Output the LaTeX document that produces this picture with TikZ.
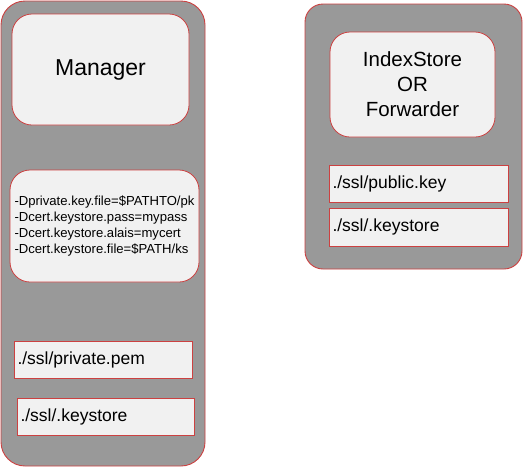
\documentclass[tikz,border=0pt]{standalone}
\usepackage{fontspec}
\setmainfont{Liberation Sans}
\usetikzlibrary{positioning}
\definecolor{hostgray}{RGB}{153,153,153}
\definecolor{panelgray}{RGB}{241,241,241}
\definecolor{edgered}{RGB}{204,65,65}
\tikzset{
  hostbox/.style={draw=edgered, fill=hostgray, line width=0.9pt, rounded corners=24pt, inner sep=0pt},
  rolebox/.style={draw=edgered, fill=panelgray, line width=0.8pt, rounded corners=20pt, align=center, inner sep=0pt},
  filebox/.style={draw=edgered, fill=panelgray, line width=0.8pt, inner sep=3.5pt, minimum height=37pt, align=left, font=\fontsize{17.5}{21}\selectfont}
}
\begin{document}
\begin{tikzpicture}[x=1pt,y=-1pt]
  \useasboundingbox (0,0) rectangle (524,467);

  % Manager host
  \node[hostbox, minimum width=204pt, minimum height=465pt] (mgrhost) at (103,233.5) {};
  \node[rolebox, minimum width=177pt, minimum height=111pt, font=\fontsize{23}{27}\selectfont] (manager) at (100.5,69.5) {\raisebox{-2.5pt}{Manager}};
  \node[rolebox, minimum width=189pt, minimum height=112pt, align=left, font=\fontsize{13.1}{16}\selectfont] (jvmopts) at (104.5,226)
    {-Dprivate.key.file=\$PATHTO/pk\\-Dcert.keystore.pass=mypass\\-Dcert.keystore.alais=mycert\\-Dcert.keystore.file=\$PATH/ks};
  \node[filebox, minimum width=178pt, text width=171pt] (privpem) at (103,359.5) {./ssl/private.pem};
  \node[filebox, minimum width=177pt, text width=170pt] (mgrstore) at (105.5,416.5) {./ssl/.keystore};

  % IndexStore / Forwarder host
  \node[hostbox, rounded corners=18pt, minimum width=217pt, minimum height=265pt] (fwdhost) at (413.5,136.5) {};
  \node[rolebox, minimum width=165pt, minimum height=105pt, font=\fontsize{20.5}{25}\selectfont] (indexer) at (412.5,84.5) {IndexStore\\OR\\Forwarder};
  \node[filebox, minimum width=179pt, text width=172pt] (pubkey) at (418.5,183.5) {./ssl/public.key};
  \node[filebox, minimum width=179pt, minimum height=38pt, text width=172pt] (fwdstore) at (418.5,227) {./ssl/.keystore};
\end{tikzpicture}
\end{document}
